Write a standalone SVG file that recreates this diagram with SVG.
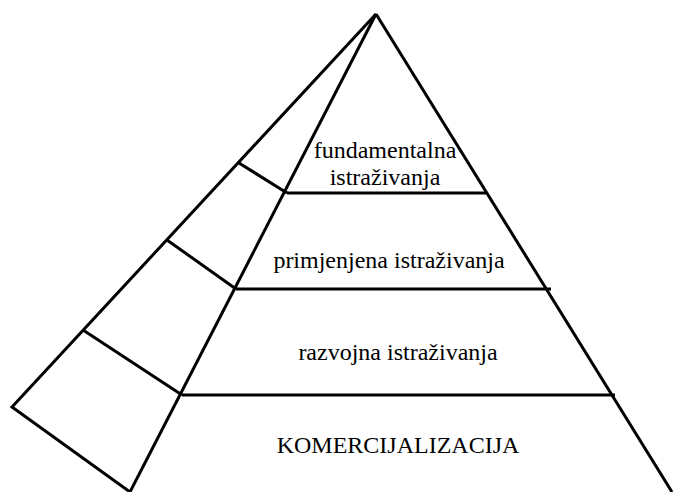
<svg xmlns="http://www.w3.org/2000/svg" width="674" height="492" viewBox="0 0 674 492">
<style>
.l{stroke:#000;stroke-width:3;fill:none;stroke-linecap:butt;stroke-linejoin:miter}
.t{font-family:"Liberation Serif","Times New Roman",serif;font-size:24px;fill:#000;text-anchor:middle}
</style>
<rect width="674" height="492" fill="#fff"/>
<g id="connectors">
<path class="l" d="M376,14 L672,492"/>
<path class="l" d="M376,14 L130,492"/>
<path class="l" d="M376,14 L12,407 L130,492"/>
<path class="l" d="M287,193 L487,193"/>
<path class="l" d="M236,289 L551,289"/>
<path class="l" d="M182,395 L615,395"/>
<path class="l" d="M239,163 L287,193"/>
<path class="l" d="M167,240 L236,289"/>
<path class="l" d="M83,330 L182,395"/>
</g>
<g id="fundamentalna"><text class="t" x="385" y="158">fundamentalna</text><text class="t" x="385" y="185">istraživanja</text></g>
<g id="primjenjena"><text class="t" x="389" y="268">primjenjena istraživanja</text></g>
<g id="razvojna"><text class="t" x="398" y="360">razvojna istraživanja</text></g>
<g id="komercijalizacija"><text class="t" x="398" y="453">KOMERCIJALIZACIJA</text></g>
</svg>
